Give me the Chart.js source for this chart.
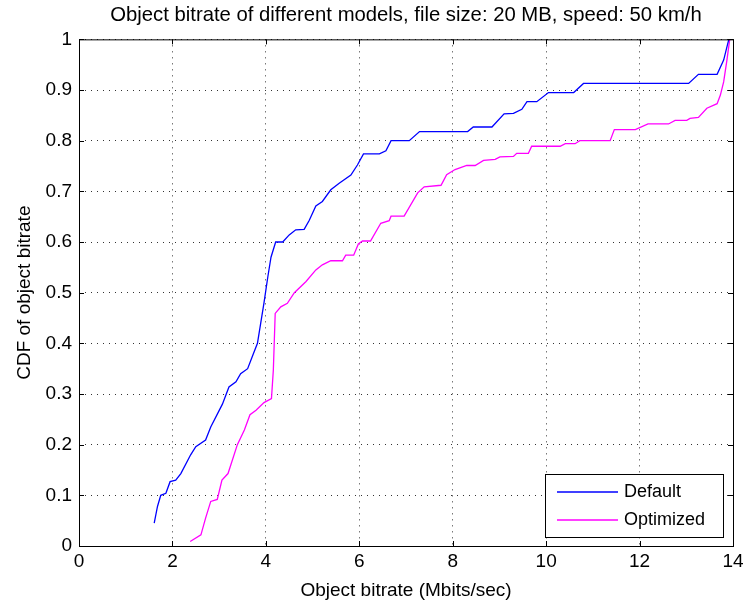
<!DOCTYPE html>
<html lang="en">
<head>
    <meta charset="UTF-8">
    <title>Object bitrate CDF</title>
    <style>
        body { margin: 0; background: #fff; }
        canvas { display: block; }
    </style>
</head>
<body>
    <canvas id="cdfChart" width="743" height="602"></canvas>
    <script src="https://cdn.jsdelivr.net/npm/chart.js@4.4.1/dist/chart.umd.min.js"></script>
    <script type="text/javascript">
        // values
        const defaultX = [1.61, 1.68, 1.75, 1.86, 1.95, 2.07, 2.18, 2.39, 2.5, 2.71,
            2.82, 3.07, 3.21, 3.36, 3.46, 3.61, 3.71, 3.82, 3.89, 3.96,
            4.04, 4.11, 4.21, 4.36, 4.5, 4.64, 4.82, 4.93, 5.07, 5.21,
            5.39, 5.57, 5.82, 5.96, 6.09, 6.43, 6.57, 6.68, 7.07, 7.29,
            8.32, 8.44, 8.84, 9.1, 9.3, 9.48, 9.59, 9.8, 10.05, 10.59,
            10.8, 13.05, 13.26, 13.66, 13.8, 13.91];
        const defaultY = [0.045, 0.078, 0.1, 0.104, 0.127, 0.13, 0.143, 0.18, 0.196, 0.209,
            0.235, 0.28, 0.314, 0.324, 0.34, 0.35, 0.374, 0.4, 0.44, 0.48,
            0.53, 0.57, 0.6, 0.6, 0.614, 0.624, 0.625, 0.643, 0.671, 0.68,
            0.703, 0.716, 0.732, 0.752, 0.774, 0.774, 0.78, 0.8, 0.8, 0.818,
            0.818, 0.827, 0.827, 0.853, 0.854, 0.862, 0.877, 0.877, 0.895, 0.895,
            0.913, 0.913, 0.931, 0.931, 0.959, 1.0];

        const optimizedX = [2.38, 2.61, 2.71, 2.82, 2.96, 3.06, 3.19, 3.39, 3.54, 3.66,
            3.79, 3.96, 4.12, 4.16, 4.2, 4.32, 4.46, 4.61, 4.86, 5.07,
            5.21, 5.39, 5.64, 5.71, 5.88, 5.98, 6.07, 6.24, 6.46, 6.64,
            6.68, 6.96, 7.25, 7.39, 7.75, 7.87, 8.05, 8.3, 8.48, 8.66,
            8.91, 9.01, 9.3, 9.37, 9.62, 9.69, 10.3, 10.41, 10.62, 10.72,
            11.37, 11.46, 11.91, 12.18, 12.62, 12.76, 13.01, 13.08, 13.26, 13.44,
            13.66, 13.73, 13.8, 13.87, 13.93];
        const optimizedY = [0.009, 0.022, 0.055, 0.088, 0.092, 0.13, 0.143, 0.2, 0.229, 0.259,
            0.268, 0.283, 0.291, 0.347, 0.459, 0.472, 0.479, 0.5, 0.522, 0.545,
            0.555, 0.563, 0.563, 0.574, 0.574, 0.596, 0.602, 0.602, 0.637, 0.642,
            0.651, 0.651, 0.697, 0.709, 0.712, 0.733, 0.743, 0.751, 0.751, 0.761,
            0.763, 0.768, 0.769, 0.775, 0.775, 0.789, 0.789, 0.794, 0.794, 0.8,
            0.8, 0.822, 0.822, 0.833, 0.833, 0.84, 0.84, 0.844, 0.846, 0.864,
            0.873, 0.89, 0.916, 0.959, 1.0];

        const seriesNames = ['Default', 'Optimized'];
        const seriesColors = ['#0000ff', '#ff00ff'];

        const toPoints = (xs, ys) => xs.map((x, i) => ({ x: x, y: ys[i] }));

        Chart.defaults.font.family = "'Liberation Sans', Arial, sans-serif";
        Chart.defaults.font.size = 19;
        Chart.defaults.color = '#000';

        // matlab style box with inward ticks
        const frame = {
            id: 'frame',
            afterDraw(chart) {
                const { ctx, chartArea: a, scales } = chart;
                ctx.save();
                ctx.strokeStyle = '#000';
                ctx.lineWidth = 1;
                ctx.strokeRect(a.left + 0.5, a.top + 0.5, a.right - a.left, a.bottom - a.top);
                const len = 5;
                ctx.beginPath();
                scales.x.ticks.forEach(t => {
                    const px = Math.round(scales.x.getPixelForValue(t.value)) + 0.5;
                    ctx.moveTo(px, a.bottom); ctx.lineTo(px, a.bottom - len);
                    ctx.moveTo(px, a.top); ctx.lineTo(px, a.top + len);
                });
                scales.y.ticks.forEach(t => {
                    const py = Math.round(scales.y.getPixelForValue(t.value)) + 0.5;
                    ctx.moveTo(a.left, py); ctx.lineTo(a.left + len, py);
                    ctx.moveTo(a.right, py); ctx.lineTo(a.right - len, py);
                });
                ctx.stroke();
                ctx.restore();
            }
        };

        // legend box in the lower right corner of the axes
        const boxLegend = {
            id: 'boxLegend',
            afterDraw(chart) {
                const { ctx, chartArea: a } = chart;
                const w = 178, h = 63;
                const left = a.right - 10 - w, top = a.bottom - 9 - h;
                ctx.save();
                ctx.fillStyle = '#fff';
                ctx.fillRect(left, top, w, h);
                ctx.strokeStyle = '#000';
                ctx.lineWidth = 1;
                ctx.strokeRect(left + 0.5, top + 0.5, w, h);
                ctx.font = "18px 'Liberation Sans', Arial, sans-serif";
                ctx.textBaseline = 'middle';
                chart.data.datasets.forEach((ds, i) => {
                    const y = top + 18 + i * 28;
                    ctx.strokeStyle = ds.borderColor;
                    ctx.lineWidth = 1.3;
                    ctx.beginPath();
                    ctx.moveTo(left + 12, y);
                    ctx.lineTo(left + 73, y);
                    ctx.stroke();
                    ctx.fillStyle = '#000';
                    ctx.fillText(ds.label, left + 79, y);
                });
                ctx.restore();
            }
        };

        const ctx = document.getElementById('cdfChart');

        new Chart(ctx, {
            type: 'line',
            data: {
                datasets: [{
                    label: seriesNames[0],
                    data: toPoints(defaultX, defaultY),
                    borderColor: seriesColors[0],
                    borderWidth: 1.3,
                    pointRadius: 0,
                    fill: false,
                    tension: 0
                },
                {
                    label: seriesNames[1],
                    data: toPoints(optimizedX, optimizedY),
                    borderColor: seriesColors[1],
                    borderWidth: 1.3,
                    pointRadius: 0,
                    fill: false,
                    tension: 0
                }]
            },
            options: {
                responsive: false,
                animation: false,
                layout: { padding: { left: 0, right: 10, top: 0, bottom: 0 } },
                plugins: {
                    legend: { display: false },
                    tooltip: { enabled: false },
                    title: {
                        display: true,
                        text: 'Object bitrate of different models, file size: 20 MB, speed: 50 km/h',
                        fullSize: false,
                        font: { size: 20.3, weight: 'normal', lineHeight: 1.15 },
                        color: '#000',
                        padding: { top: 4, bottom: 12 }
                    }
                },
                scales: {
                    x: {
                        type: 'linear',
                        min: 0,
                        max: 14,
                        ticks: { stepSize: 2, padding: 4, maxRotation: 0 },
                        grid: { color: '#333', drawTicks: false },
                        border: { display: false, dash: [1, 5] },
                        title: {
                            display: true,
                            text: 'Object bitrate (Mbits/sec)',
                            padding: { top: 3, bottom: 0 }
                        },
                        afterFit(scale) {
                            scale.height = 56;
                            scale.paddingLeft = 0;
                            scale.paddingRight = 0;
                        }
                    },
                    y: {
                        min: 0,
                        max: 1,
                        ticks: {
                            stepSize: 0.1,
                            padding: 7,
                            callback: v => String(Number(v.toFixed(1)))
                        },
                        grid: { color: '#333', drawTicks: false },
                        border: { display: false, dash: [1, 5] },
                        title: {
                            display: true,
                            text: 'CDF of object bitrate',
                            padding: { top: 13, bottom: 0 }
                        },
                        afterFit(scale) {
                            scale.width = 79;
                            scale.paddingTop = 0;
                            scale.paddingBottom = 0;
                        }
                    }
                }
            },
            plugins: [frame, boxLegend]
        });
    </script>
</body>
</html>
